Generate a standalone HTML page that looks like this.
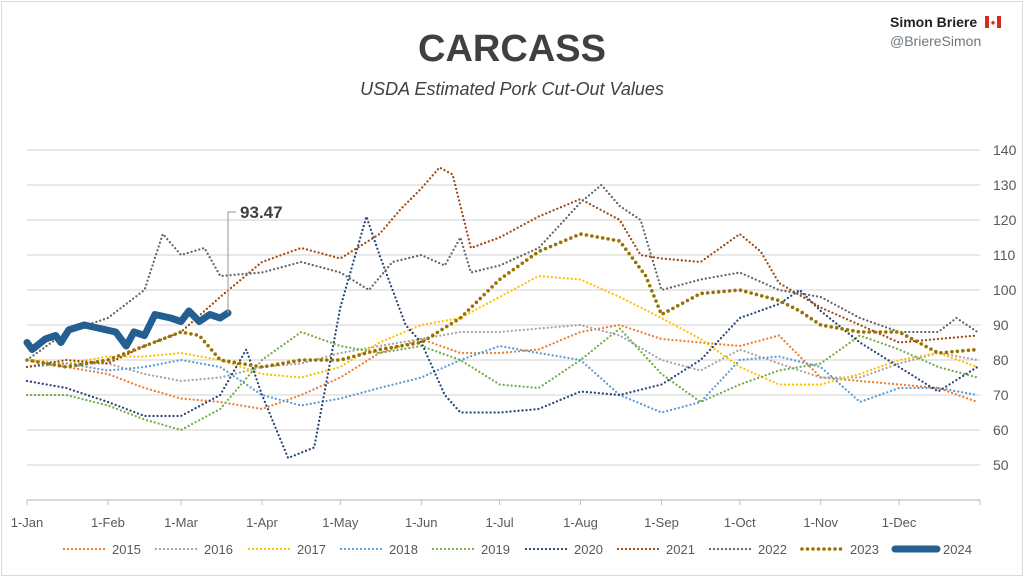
<!DOCTYPE html>
<html><head><meta charset="utf-8"><style>
body{margin:0;background:#fff;}
svg{display:block;font-family:"Liberation Sans",Arial,sans-serif;}
</style></head><body>
<svg id="chart" width="1024" height="577" viewBox="0 0 1024 577">
<rect x="1.5" y="1.5" width="1021" height="574" fill="#fff" stroke="#d9d9d9" stroke-width="1"/>
<text x="512" y="61" text-anchor="middle" font-size="38" font-weight="bold" fill="#404040">CARCASS</text>
<text x="512" y="95" text-anchor="middle" font-size="18" font-style="italic" fill="#404040">USDA Estimated Pork Cut-Out Values</text>
<text x="890" y="27" font-size="14" font-weight="bold" fill="#222">Simon Briere</text>
<g><rect x="985" y="16" width="16" height="12" fill="#fff"/><rect x="985" y="16" width="4" height="12" fill="#d52b1e"/><rect x="997" y="16" width="4" height="12" fill="#d52b1e"/><text x="993" y="26" font-size="9" text-anchor="middle" fill="#d52b1e">✦</text></g>
<text x="890" y="46" font-size="14" fill="#6e7780">@BriereSimon</text>
<g id="grid"></g><g id="series"></g><g id="legend"></g>
</svg>
<script>
const yTicks=[50,60,70,80,90,100,110,120,130,140];
const monthLabels=["1-Jan","1-Feb","1-Mar","1-Apr","1-May","1-Jun","1-Jul","1-Aug","1-Sep","1-Oct","1-Nov","1-Dec"];
const monthDays=[0,31,59,90,120,151,181,212,243,273,304,334];
const years=["2015","2016","2017","2018","2019","2020","2021","2022","2023","2024"];
const colors=["#ED7D31","#A5A5A5","#FFC000","#5B9BD5","#70AD47","#264478","#9E480E","#636363","#997300","#255E91"];
const daysStd=[0,15,31,45,59,74,90,105,120,135,151,166,181,196,212,227,243,258,273,288,304,319,334,349,364];
const v2015=[80,78,76,72,69,68,66,70,75,82,86,82,82,83,88,90,86,85,84,87,75,74,73,72,68];
const v2016=[80,79,79,76,74,75,78,79,82,84,86,88,88,89,90,87,80,77,83,79,75,75,79,82,80];
const v2017=[80,79,81,81,82,80,76,75,78,85,90,92,98,104,103,98,92,86,78,73,73,76,80,82,78];
const v2018=[78,79,77,78,80,78,70,67,69,72,75,80,84,82,80,70,65,68,80,81,78,68,72,72,70];
const v2019=[70,70,67,63,60,66,80,88,84,82,84,80,73,72,80,89,76,68,73,77,79,87,83,78,75];
const d2020=[0,15,31,45,59,74,84,90,100,110,120,130,135,145,151,160,166,181,196,212,227,243,258,273,288,296,304,319,334,349,364];
const v2020=[74,72,68,64,64,70,83,70,52,55,95,121,110,90,85,70,65,65,66,71,70,73,80,92,96,100,94,85,78,71,78];
const d2021=[0,15,31,45,59,74,90,105,120,135,143,151,158,163,170,181,196,212,227,235,243,258,273,281,288,304,319,334,349,364];
const v2021=[78,80,79,84,88,98,108,112,109,116,123,129,135,133,112,115,121,126,120,110,109,108,116,111,102,95,90,85,86,87];
const d2022=[0,15,31,45,52,59,68,74,90,105,120,131,140,151,160,166,170,181,196,212,220,227,235,243,258,273,288,304,319,334,349,356,364];
const v2022=[80,88,92,100,116,110,112,104,105,108,105,100,108,110,107,115,105,107,112,125,130,124,120,100,103,105,100,98,92,88,88,92,88];
const d2023=[0,15,31,45,59,66,74,90,105,120,135,151,166,181,196,212,227,237,243,258,273,288,296,304,319,334,349,364];
const v2023=[80,78,80,84,88,87,80,78,80,80,83,85,92,103,111,116,114,104,93,99,100,97,94,90,88,88,82,83];
const d2024=[0,2,7,11,13,16,22,28,34,38,41,45,49,55,59,62,66,70,74,77];
const v2024=[85,83,86,87,85,88.6,90,89,88,84,88,87,93,92,91,94,91,93,92,93.47];
const NS="http://www.w3.org/2000/svg";
const X0=27,X1=980,Y0=150,Y1=465;
function xs(d){return X0+d*(X1-X0)/365;}
function ys(v){return Y0+(140-v)*(Y1-Y0)/90;}
function mk(tag,attrs,parent){const e=document.createElementNS(NS,tag);for(const k in attrs)e.setAttribute(k,attrs[k]);parent.appendChild(e);return e;}
const grid=document.getElementById('grid');
yTicks.forEach(t=>{
  const l=mk('line',{x1:X0,x2:X1,y1:ys(t),y2:ys(t),stroke:'#d9d9d9','stroke-width':1.3},grid);
  
  
  const tx=mk('text',{x:993,y:ys(t)+5,'font-size':14,fill:'#595959'},grid);
  tx.textContent=t;
  
  
});
const ax=mk('line',{x1:X0,x2:X1,y1:500,y2:500,stroke:'#bfbfbf','stroke-width':1.3},grid);


monthLabels.forEach((m,i)=>{
  const tk=mk('line',{x1:xs(monthDays[i]),x2:xs(monthDays[i]),y1:500,y2:505,stroke:'#bfbfbf'},grid);
  
  
  const tx=mk('text',{x:xs(monthDays[i]),y:527,'font-size':13,fill:'#595959','text-anchor':'middle'},grid);
  tx.textContent=m;
  
  
});
const endTk=mk('line',{x1:X1,x2:X1,y1:500,y2:505,stroke:'#bfbfbf'},grid);


const data=[[daysStd,v2015],[daysStd,v2016],[daysStd,v2017],[daysStd,v2018],[daysStd,v2019],[d2020,v2020],[d2021,v2021],[d2022,v2022],[d2023,v2023],[d2024,v2024]];
const sg=document.getElementById('series');
function style(i){
  if(i===9)return {w:7,dash:''};
  if(i===8)return {w:3.6,dash:'0 5.5'};
  return {w:2.3,dash:'0 4'};
}
data.forEach((s,i)=>{
  const pts=s[0].map((d,j)=>xs(d).toFixed(1)+','+ys(s[1][j]).toFixed(1)).join(' ');
  const st=style(i);
  const p=mk('polyline',{points:pts,fill:'none',stroke:colors[i],'stroke-width':st.w,'stroke-linecap':'round','stroke-linejoin':'round'},sg);
  if(st.dash)p.setAttribute('stroke-dasharray',st.dash);
  
  
});
const lastX=xs(d2024[d2024.length-1]),lastY=ys(v2024[v2024.length-1]);
const lead=mk('polyline',{points:`${lastX},${lastY} ${lastX},${212} ${lastX+8},212`,fill:'none',stroke:'#a6a6a6','stroke-width':1.2},sg);


const lab=mk('text',{x:lastX+12,y:218,'font-size':17,'font-weight':'bold',fill:'#404040'},sg);
lab.textContent=v2024[v2024.length-1].toFixed(2);


const lg=document.getElementById('legend');
const lgX=[112,204,297,389,481,574,666,758,850,943];
years.forEach((y,i)=>{
  const g=mk('g',{},lg);
  
  
  const st=style(i);
  const l=mk('line',{x1:lgX[i]-48,x2:lgX[i]-6,y1:549,y2:549,stroke:colors[i],'stroke-width':st.w,'stroke-linecap':'round'},g);
  if(st.dash)l.setAttribute('stroke-dasharray',st.dash);
  
  
  const t=mk('text',{x:lgX[i],y:554,'font-size':13,fill:'#595959'},g);
  t.textContent=y;
  
  
});
</script>
</body></html>
